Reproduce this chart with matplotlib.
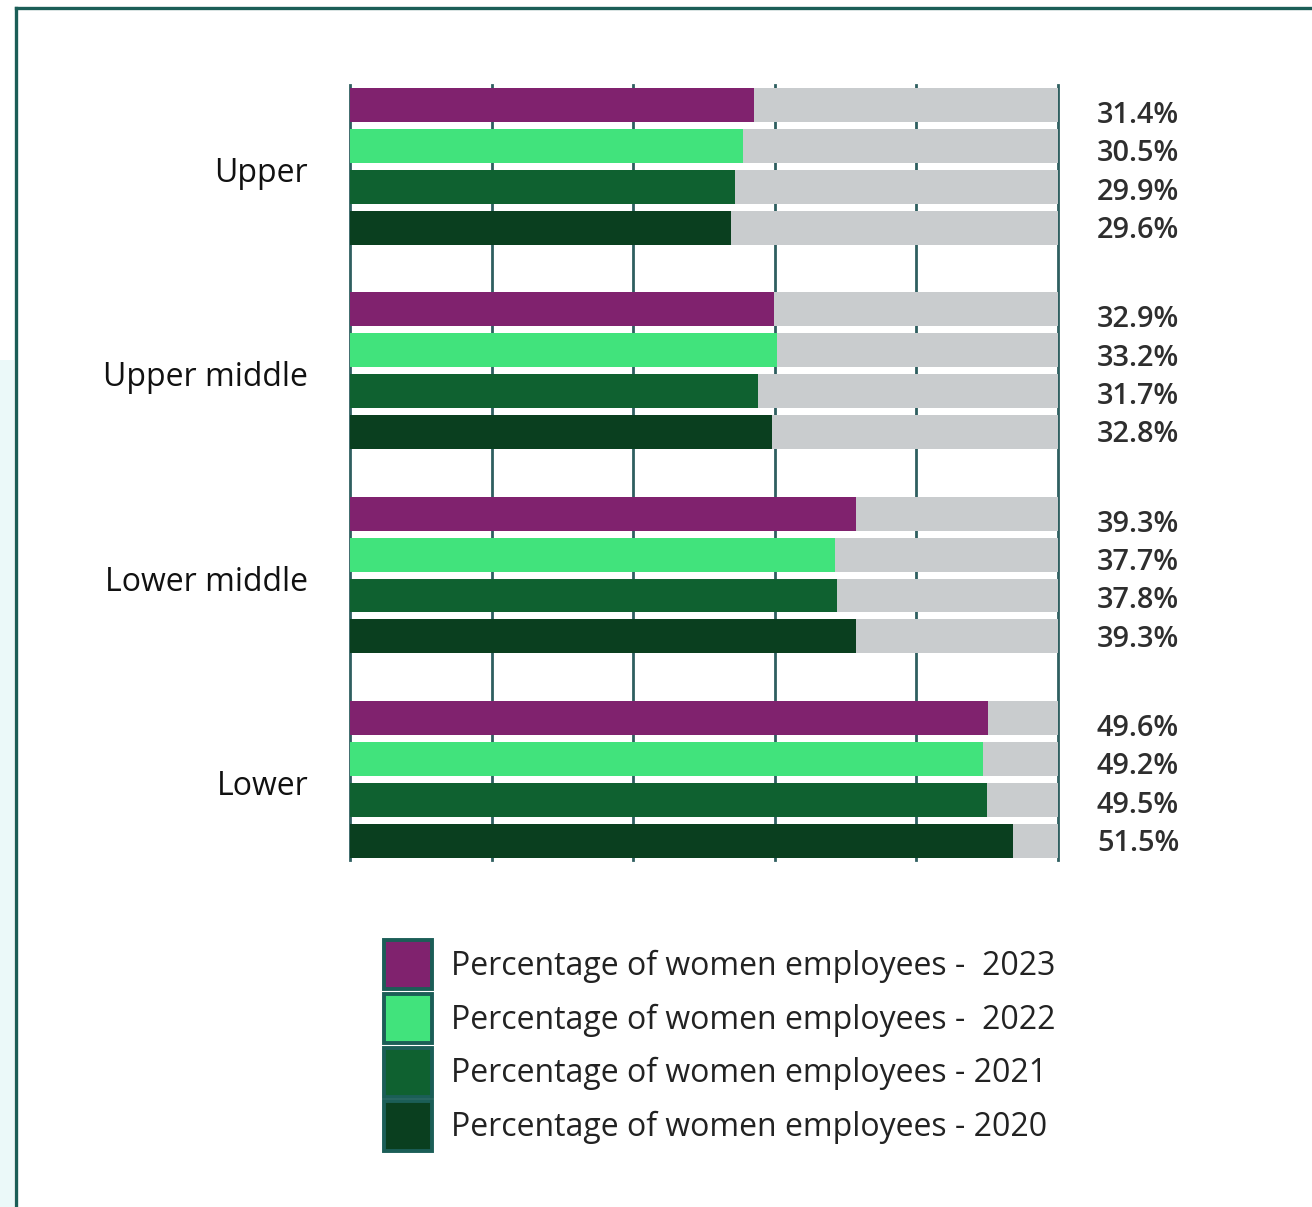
import matplotlib
matplotlib.use("Agg")
import matplotlib.pyplot as plt
from matplotlib.patches import Patch, Rectangle
from matplotlib.lines import Line2D

plt.rcParams['font.family'] = ['Open Sans', 'DejaVu Sans']

categories = ["Upper", "Upper middle", "Lower middle", "Lower"]
years = ["2023", "2022", "2021", "2020"]
legend_labels = ["Percentage of women employees -  2023",
                 "Percentage of women employees -  2022",
                 "Percentage of women employees - 2021",
                 "Percentage of women employees - 2020"]
values_2023 = [31.4, 32.9, 39.3, 49.6]
values_2022 = [30.5, 33.2, 37.7, 49.2]
values_2021 = [29.9, 31.7, 37.8, 49.5]
values_2020 = [29.6, 32.8, 39.3, 51.5]
series = [values_2023, values_2022, values_2021, values_2020]
colors = ["#80226e", "#41e37c", "#0f6130", "#0a3f1f"]
grey = "#c9ccce"
teal = "#1b5e57"
axis_max = 55
grid_ticks = [0, 11, 22, 33, 44, 55]

W, H = 1312, 1207
fig = plt.figure(figsize=(W / 100, H / 100), dpi=100)
fig.patch.set_facecolor("white")

# left pale strip and frame
fig.add_artist(Rectangle((0, 0), 14 / W, 1 - 360 / H, transform=fig.transFigure,
                         facecolor="#ebf9f9", edgecolor="none"))
fig.add_artist(Line2D([15.5 / W, 15.5 / W], [0, 1 - 7.5 / H], transform=fig.transFigure,
                      color=teal, lw=2.4))
fig.add_artist(Line2D([15.5 / W, 1], [1 - 7.5 / H, 1 - 7.5 / H], transform=fig.transFigure,
                      color=teal, lw=2.4))

ax = fig.add_axes([350 / W, 1 - 860 / H, 708 / W, 775 / H])
group_step = 5
bar_h = 0.83
for g, cat in enumerate(categories):
    for i, vals in enumerate(series):
        y = g * group_step + i
        v = vals[g]
        ax.barh(y, axis_max, height=bar_h, color=grey, zorder=2)
        ax.barh(y, v, height=bar_h, color=colors[i], zorder=3)
        ax.text(1.055, y + 0.25 - i * 0.06, f"{v}%", transform=ax.get_yaxis_transform(),
                ha="left", va="center", fontsize=20.8, color="#2e2e2e", fontweight="semibold")
    ax.text(-0.059, g * group_step + 1.5 + 0.17, cat, transform=ax.get_yaxis_transform(),
            ha="right", va="center", fontsize=23, color="#111111")

ax.set_xlim(0, axis_max)
ax.set_ylim(18.47, -0.49)
ax.set_xticks(grid_ticks)
ax.set_yticks([])
ax.tick_params(axis="x", length=0, labelbottom=False)
ax.grid(axis="x", color="#2f5f60", lw=2, zorder=0)
for ln in ax.get_xgridlines():
    ln.set_clip_on(False)
for s in ax.spines.values():
    s.set_visible(False)
ax.set_axisbelow(True)
ax.patch.set_alpha(0)

handles = [Patch(facecolor=c, edgecolor=teal, linewidth=2.8) for c in colors]
fig.legend(handles, legend_labels, loc="upper left",
           bbox_to_anchor=(384 / W, 1 - 940 / H), frameon=False,
           fontsize=23, handlelength=1.5, handleheight=2.0,
           labelspacing=0.14, handletextpad=0.6, borderpad=0, borderaxespad=0,
           labelcolor="#222222")

fig.savefig("out.png", dpi=100, facecolor="white")
